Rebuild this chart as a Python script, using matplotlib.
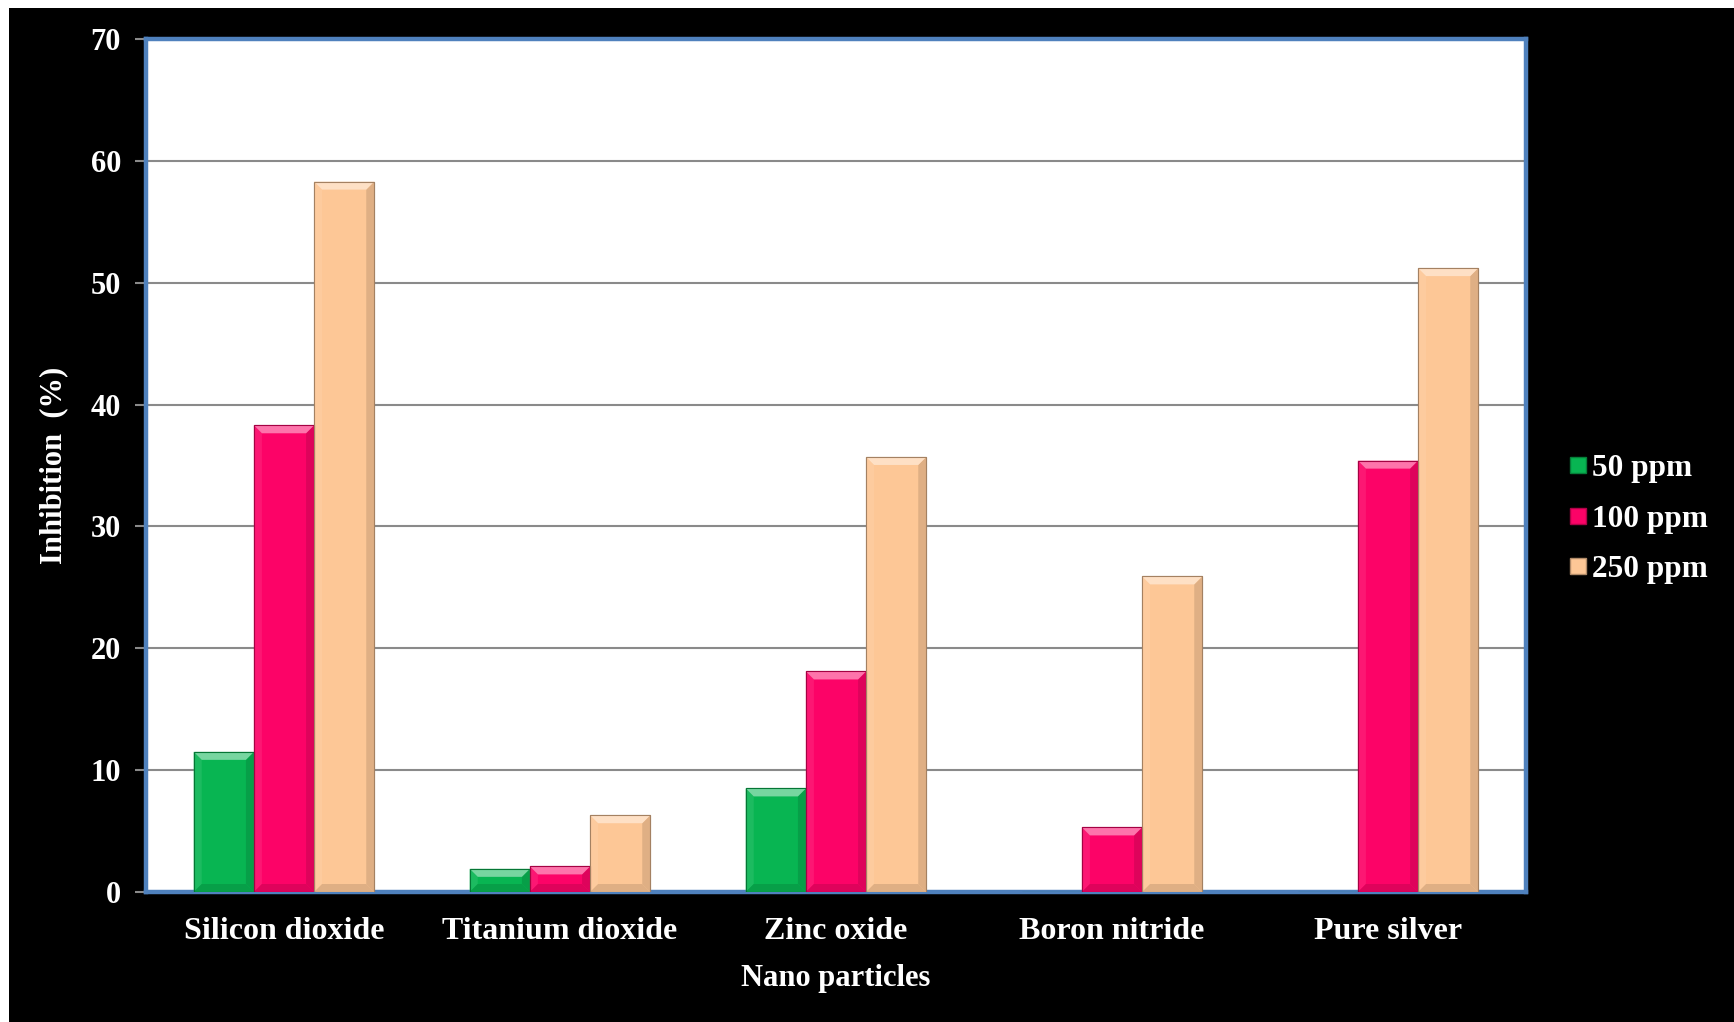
import numpy as np
import matplotlib.pyplot as plt
import matplotlib.patches as mpatches
from matplotlib.colors import to_rgb
from matplotlib.lines import Line2D

# ── Data ──────────────────────────────────────────────────────────────────────
particles = ["Silicon dioxide", "Titanium dioxide", "Zinc oxide",
             "Boron nitride", "Pure silver"]
series = ["50 ppm", "100 ppm", "250 ppm"]
ppm_50 = [11.5, 1.9, 8.5, 0.0, 0.0]
ppm_100 = [38.3, 2.1, 18.1, 5.3, 35.4]
ppm_250 = [58.3, 6.3, 35.7, 25.9, 51.2]

COLORS = ["#08b552", "#fc0367", "#fdc796"]
FONT = "Liberation Serif"


def shade(c, f):
    """f > 0 lightens towards white, f < 0 darkens towards black."""
    r = np.array(to_rgb(c))
    return tuple(r + (1 - r) * f) if f > 0 else tuple(r * (1 + f))


# ── Figure ────────────────────────────────────────────────────────────────────
fig = plt.figure(figsize=(17.34, 10.22), dpi=100)
fig.patch.set_facecolor("black")
# thin white strip on the top and left edges
fig.patches.append(mpatches.Rectangle((0, 1 - 8 / 1022), 1, 8 / 1022,
                                      transform=fig.transFigure,
                                      facecolor="white", edgecolor="none"))
fig.patches.append(mpatches.Rectangle((0, 0), 9 / 1734, 1,
                                      transform=fig.transFigure,
                                      facecolor="white", edgecolor="none"))

ax = fig.add_axes([146 / 1734, 130 / 1022, 1380 / 1734, 853 / 1022])
ax.set_facecolor("white")
ax.set_xlim(-0.5, 4.5)
ax.set_ylim(0, 70)

ax.set_yticks(np.arange(0, 71, 10))
ax.grid(axis="y", color="#8a8a8a", lw=1.5, zorder=0)
ax.set_axisbelow(True)
for s in ax.spines.values():
    s.set_color("#4f81bd")
    s.set_linewidth(3.2)
ax.tick_params(axis="y", colors="#8a8a8a", length=8, width=1.5, pad=10,
               labelcolor="white", labelsize=22)
ax.tick_params(axis="x", length=0, pad=18, labelcolor="white", labelsize=23)
ax.set_xticks(range(len(particles)))
ax.set_xticklabels(particles)
for lbl in ax.get_xticklabels() + ax.get_yticklabels():
    lbl.set_fontfamily(FONT)
    lbl.set_fontweight("bold")

ax.set_xlabel("Nano particles", color="white", fontsize=22,
              fontfamily=FONT, fontweight="bold", labelpad=13)
ax.set_ylabel("Inhibition  (%)", color="white", fontsize=22,
              fontfamily=FONT, fontweight="bold", labelpad=16)

# ── Bars with a bevelled look ────────────────────────────────────────────────
x = np.arange(len(particles))
w = 0.218
fig.canvas.draw()
inv = ax.transData.inverted()
p0 = inv.transform((0, 0))
p1 = inv.transform((8, 8))
bx, by = p1 - p0

for k, (vals, col) in enumerate(zip([ppm_50, ppm_100, ppm_250], COLORS)):
    bars = ax.bar(x + (k - 1) * w, vals, w, color=col,
                  edgecolor=shade(col, -0.35), linewidth=0.8, zorder=3)
    for r in bars:
        x0, h, bw = r.get_x(), r.get_height(), r.get_width()
        if h <= 0:
            continue
        dy = min(by, h / 2)
        dx = bx
        top = [(x0, h), (x0 + bw, h), (x0 + bw - dx, h - dy), (x0 + dx, h - dy)]
        bot = [(x0, 0), (x0 + bw, 0), (x0 + bw - dx, dy), (x0 + dx, dy)]
        left = [(x0, 0), (x0, h), (x0 + dx, h - dy), (x0 + dx, dy)]
        right = [(x0 + bw, 0), (x0 + bw, h), (x0 + bw - dx, h - dy), (x0 + bw - dx, dy)]
        for poly, f in [(left, 0.08), (right, -0.12), (bot, -0.12), (top, 0.45)]:
            ax.add_patch(mpatches.Polygon(poly, closed=True,
                                          facecolor=shade(col, f),
                                          edgecolor="none", zorder=4))
        ax.add_patch(mpatches.Rectangle((x0, 0), bw, h, facecolor="none",
                                        edgecolor=shade(col, -0.35),
                                        linewidth=0.8, zorder=5))

# ── Legend ────────────────────────────────────────────────────────────────────
handles = [Line2D([], [], marker="s", linestyle="none", markersize=12,
                  markerfacecolor=c, markeredgecolor=shade(c, -0.3))
           for c in COLORS]
leg = fig.legend(handles, series, loc="center left",
                 bbox_to_anchor=(1553 / 1734, 1 - 519 / 1022),
                 frameon=False, handlelength=0.6, handletextpad=0.15,
                 labelspacing=0.7, borderpad=0,
                 prop={"family": FONT, "weight": "bold", "size": 22.5})
for t in leg.get_texts():
    t.set_color("white")

fig.savefig("out.png", dpi=100, facecolor=fig.get_facecolor())
